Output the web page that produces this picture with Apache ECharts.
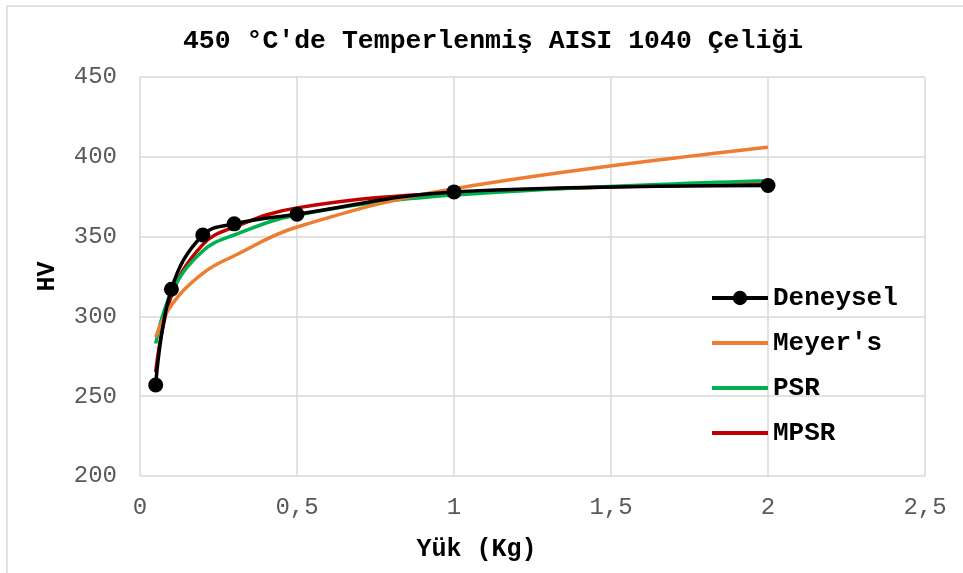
<!DOCTYPE html>
<html>
<head>
<meta charset="utf-8">
<script src="https://cdn.jsdelivr.net/npm/echarts@6/dist/echarts.min.js"></script>
<style>html,body{margin:0;padding:0;background:#fff;}#c{width:963px;height:573px;}</style>
</head>
<body>
<div id="c"></div>
<script>
const titleText = "450 °C'de Temperlenmiş AISI 1040 Çeliği";
const xName = "Yük (Kg)";
const yName = "HV";
const loads = [0.05, 0.1, 0.2, 0.3, 0.5, 1, 2];
const deneysel = [257, 317, 351, 358, 364, 378, 382];
const meyers = [287, 307, 327, 338, 356, 380, 406];
const psr = [283, 315, 341, 351, 363.5, 376, 385];
const mpsr = [265, 313, 345, 356, 368, 377.5, 383];
const seriesNames = ["Deneysel", "Meyer's", "PSR", "MPSR"];
const seriesColors = ["#000000", "#ED7D31", "#00B050", "#C00000"];

const FONT = "'Liberation Mono','Courier New',monospace";
const pairs = arr => loads.map((x, i) => [x, arr[i]]);
const allData = [deneysel, meyers, psr, mpsr];

const chart = echarts.init(document.getElementById('c'));
chart.setOption({
  animation: false,
  backgroundColor: '#ffffff',
  graphic: [{
    type: 'rect', shape: {x: 7, y: 6, width: 1000, height: 1000},
    style: {fill: 'none', stroke: '#d9d9d9', lineWidth: 1.5}, silent: true
  }],
  title: {
    text: titleText, left: 488, top: 23, textAlign: 'center',
    textStyle: {fontFamily: FONT, fontWeight: 'bold', fontSize: 26.5, color: '#000'}
  },
  grid: {left: 140, right: 38, top: 77, bottom: 97, containLabel: false},
  legend: {
    orient: 'vertical', left: 710, top: 283, padding: 0,
    itemWidth: 56, itemHeight: 18, itemGap: 15,
    lineStyle: {width: 4},
    data: seriesNames.map((n, i) => i === 0 ? {name: n} : {name: n, itemStyle: {opacity: 0}}),
    textStyle: {fontFamily: FONT, fontWeight: 'bold', fontSize: 26, color: '#000', lineHeight: 30}
  },
  xAxis: {
    type: 'value', min: 0, max: 2.5, interval: 0.5,
    name: xName, nameLocation: 'middle', nameGap: 61,
    nameTextStyle: {fontFamily: FONT, fontWeight: 'bold', fontSize: 25, color: '#000', padding: [0, 112, 0, 0]},
    axisLine: {show: false}, axisTick: {show: false},
    axisLabel: {fontFamily: FONT, fontSize: 24, color: '#595959', margin: 20,
      formatter: v => String(v).replace('.', ',')},
    splitLine: {show: true, lineStyle: {color: '#d9d9d9', width: 1.5}}
  },
  yAxis: {
    type: 'value', min: 200, max: 450, interval: 50,
    name: yName, nameLocation: 'middle', nameGap: 80,
    nameTextStyle: {fontFamily: FONT, fontWeight: 'bold', fontSize: 25, color: '#000'},
    axisLine: {show: false}, axisTick: {show: false},
    axisLabel: {fontFamily: FONT, fontSize: 24, color: '#595959', margin: 23},
    splitLine: {show: true, lineStyle: {color: '#d9d9d9', width: 1.5}}
  },
  series: seriesNames.map((name, i) => ({
    name: name, type: 'line', data: pairs(allData[i]),
    smooth: 0.4,
    symbol: i === 0 ? 'circle' : 'none',
    symbolSize: 15,
    showSymbol: i === 0,
    z: 10 - i,
    lineStyle: {color: seriesColors[i], width: 3.5},
    itemStyle: {color: seriesColors[i]}
  }))
});
</script>
</body>
</html>
